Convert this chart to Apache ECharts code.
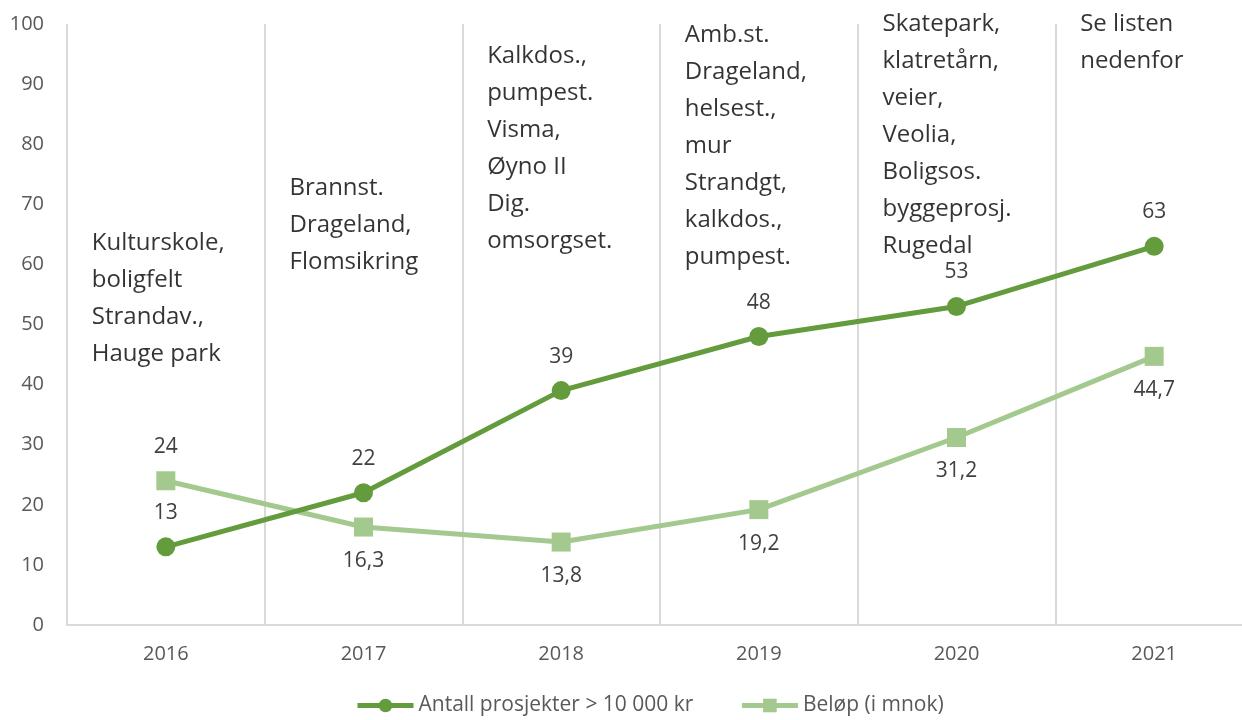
<!DOCTYPE html>
<html>
<head>
<meta charset="utf-8">
<script src="https://cdn.jsdelivr.net/npm/echarts@6/dist/echarts.min.js"></script>
<style>
  html, body { margin: 0; padding: 0; background: #fff; }
  #main { width: 1242px; height: 720px; }
</style>
</head>
<body>
<div id="main"></div>
<script>
var years = ['2016', '2017', '2018', '2019', '2020', '2021'];
var antall = [13, 22, 39, 48, 53, 63];
var belop = [24, 16.3, 13.8, 19.2, 31.2, 44.7];
var yTicks = [0, 10, 20, 30, 40, 50, 60, 70, 80, 90, 100];
// project notes per year, and the value where each block starts
var notes = [
  'Kulturskole,\nboligfelt\nStrandav.,\nHauge park',
  'Brannst.\nDrageland,\nFlomsikring',
  'Kalkdos.,\npumpest.\nVisma,\nØyno II\nDig.\nomsorgset.',
  'Amb.st.\nDrageland,\nhelsest.,\nmur\nStrandgt,\nkalkdos.,\npumpest.',
  'Skatepark,\nklatretårn,\nveier,\nVeolia,\nBoligsos.\nbyggeprosj.\nRugedal',
  'Se listen\nnedenfor'
];
var noteTop = [66.6, 75.8, 97.8, 101.3, 103, 103];

var FONT = '"Open Sans", "Noto Sans", sans-serif';
var dark = '#639b3d';
var light = '#a3c98f';

function fmt(v) { return String(v).replace('.', ','); }

var noteData = [];
for (var i = 0; i < years.length; i++) {
  noteData.push({ value: [years[i], noteTop[i]], name: notes[i] });
}

var chart = echarts.init(document.getElementById('main'));
chart.setOption({
  animation: false,
  textStyle: { fontFamily: FONT },
  grid: { left: 67, width: 1186, top: 24, bottom: 95, outerBoundsMode: 'none', containLabel: false },
  legend: {
    bottom: -1,
    left: 350,
    itemWidth: 56,
    itemHeight: 17,
    itemGap: 46,
    lineStyle: { width: 5 },
    textStyle: { fontFamily: FONT, fontSize: 21, color: '#595959' },
    data: ['Antall prosjekter > 10 000 kr', 'Beløp (i mnok)']
  },
  xAxis: {
    type: 'category',
    data: years,
    boundaryGap: true,
    axisLine: { lineStyle: { color: '#d9d9d9', width: 2 } },
    axisTick: { show: false },
    axisLabel: { color: '#595959', fontSize: 20, margin: 19, fontFamily: FONT },
    splitLine: { show: true, lineStyle: { color: '#d9d9d9', width: 2 } }
  },
  yAxis: {
    type: 'value',
    min: 0,
    max: 100,
    interval: 10,
    axisLine: { show: false },
    axisTick: { show: false },
    splitLine: { show: false },
    axisLabel: {
      color: '#595959', fontSize: 20, margin: 23, fontFamily: FONT,
      formatter: function (v) { return yTicks.indexOf(v) >= 0 ? String(v) : ''; }
    }
  },
  series: [
    {
      name: 'Antall prosjekter > 10 000 kr',
      type: 'line',
      data: antall,
      symbol: 'circle',
      symbolSize: 19,
      lineStyle: { color: dark, width: 5 },
      itemStyle: { color: dark },
      label: {
        show: true, position: 'top', distance: 14,
        color: '#404040', fontSize: 21, fontFamily: FONT,
        formatter: function (p) { return fmt(p.value); }
      },
      z: 3
    },
    {
      name: 'Beløp (i mnok)',
      type: 'line',
      data: belop.map(function (v, i) {
        return { value: v, label: { position: i === 0 ? 'top' : 'bottom' } };
      }),
      symbol: 'rect',
      symbolSize: 19,
      lineStyle: { color: light, width: 5 },
      itemStyle: { color: light },
      label: {
        show: true, position: 'bottom', distance: 14,
        color: '#404040', fontSize: 21, fontFamily: FONT,
        formatter: function (p) { return fmt(p.value); }
      },
      z: 2
    },
    {
      name: 'notes',
      type: 'scatter',
      data: noteData,
      symbolSize: 0,
      clip: false,
      silent: true,
      label: {
        show: true,
        position: [-74, 0],
        align: 'left',
        verticalAlign: 'top',
        color: '#000',
        fontSize: 24,
        lineHeight: 37,
        fontFamily: FONT,
        formatter: function (p) { return p.name; }
      },
      z: 5
    }
  ]
});
</script>
</body>
</html>
